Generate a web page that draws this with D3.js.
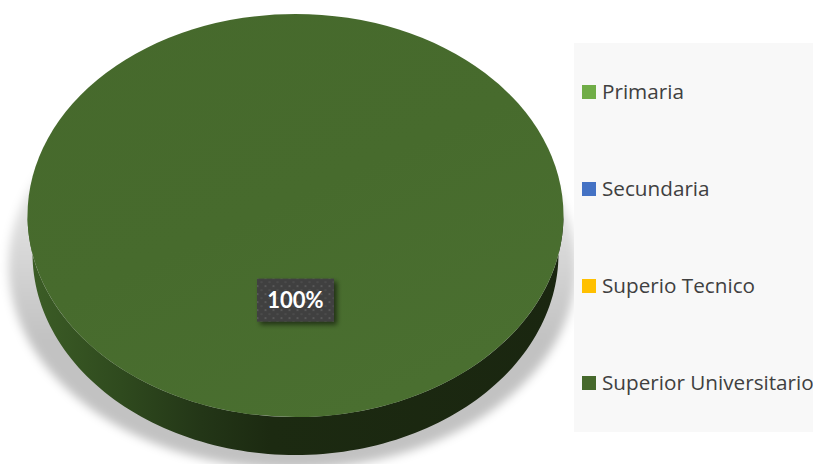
<!DOCTYPE html>
<html>
<head>
<meta charset="utf-8">
<script src="https://cdn.jsdelivr.net/npm/d3@7"></script>
<style>
  html, body { margin: 0; padding: 0; background: #ffffff; }
  svg { display: block; }
</style>
</head>
<body>
<svg id="chart" width="813" height="464"></svg>
<script>
// Nivel educativo: share of respondents per category (percent)
const categories = ["Primaria", "Secundaria", "Superio Tecnico", "Superior Universitario"];
const values = [0, 0, 0, 100];
const colors = ["#70AD47", "#4472C4", "#FFC000", "#46692C"];

const W = 813, H = 464;
const svg = d3.select("#chart");
const defs = svg.append("defs");

// 3D pie geometry (top face ellipse + extruded side)
const cx = 295.5, cy = 215.5;
const rx = 268, ry = 201.5;
const depth = 38;
const rxB = 263, ryB = 201.5;           // bottom rim, slightly narrower for perspective
const cyB = cy + depth;

const color = d3.scaleOrdinal().domain(categories).range(colors);
const pie = d3.pie().sort(null).value(d => d.value);
const slices = pie(categories.map((c, i) => ({ name: c, value: values[i] })));

// unit arc, stretched into the ellipse
const unitArc = d3.arc().innerRadius(0).outerRadius(1);

function topPt(a) { return [cx + rx * Math.sin(a), cy - ry * Math.cos(a)]; }
function botPt(a) { return [cx + rxB * Math.sin(a), cyB - ryB * Math.cos(a)]; }

// side band for angles a0..a1 restricted to the visible front half
function sidePath(a0, a1) {
  const s = Math.max(a0, Math.PI / 2), e = Math.min(a1, 3 * Math.PI / 2);
  if (e <= s) return null;
  const n = 120, pts = [];
  for (let i = 0; i <= n; i++) pts.push(topPt(s + (e - s) * i / n));
  for (let i = n; i >= 0; i--) pts.push(botPt(s + (e - s) * i / n));
  return d3.line()(pts) + "Z";
}

// perspective shadow cast behind and below the pie, fading out towards the top
const shadowGrad = defs.append("linearGradient").attr("id", "shadowGrad")
  .attr("gradientUnits", "userSpaceOnUse").attr("x1", 0).attr("x2", 0).attr("y1", 90).attr("y2", 340);
shadowGrad.append("stop").attr("offset", 0).attr("stop-color", "#000").attr("stop-opacity", 0);
shadowGrad.append("stop").attr("offset", 1).attr("stop-color", "#000").attr("stop-opacity", 0.24);
const shadowF = defs.append("filter").attr("id", "pieShadow")
  .attr("x", "-20%").attr("y", "-20%").attr("width", "140%").attr("height", "140%");
shadowF.append("feGaussianBlur").attr("stdDeviation", 5);

svg.append("ellipse")
  .attr("cx", cx - 3).attr("cy", cy + 50).attr("rx", rx + 16).attr("ry", ry + 2)
  .attr("fill", "url(#shadowGrad)").attr("filter", "url(#pieShadow)");

// side shading, light on the left, dark to the right
const sideGrad = defs.append("linearGradient").attr("id", "sideGrad")
  .attr("gradientUnits", "userSpaceOnUse").attr("x1", 30).attr("x2", 565).attr("y1", 0).attr("y2", 0);
[[0, "#3c5d26"], [0.17, "#2f4a1e"], [0.32, "#233617"], [0.45, "#1c2a11"], [1, "#1a2610"]]
  .forEach(([o, c]) => sideGrad.append("stop").attr("offset", o).attr("stop-color", c));

// subtle highlight on the top face
const topGrad = defs.append("linearGradient").attr("id", "topGrad")
  .attr("x1", 0).attr("y1", 0).attr("x2", 0.6).attr("y2", 1);
topGrad.append("stop").attr("offset", 0).attr("stop-color", color(categories[3]));
topGrad.append("stop").attr("offset", 0.55).attr("stop-color", "#476b2d");
topGrad.append("stop").attr("offset", 1).attr("stop-color", "#4a6f30");

const pieG = svg.append("g");

pieG.selectAll("path.side")
  .data(slices.filter(d => d.endAngle > d.startAngle))
  .join("path")
  .attr("class", "side")
  .attr("d", d => sidePath(d.startAngle, d.endAngle))
  .attr("fill", "url(#sideGrad)");

pieG.selectAll("path.top")
  .data(slices.filter(d => d.endAngle > d.startAngle))
  .join("path")
  .attr("class", "top")
  .attr("transform", `translate(${cx},${cy}) scale(${rx},${ry})`)
  .attr("d", unitArc)
  .attr("fill", d => d.value === 100 ? "url(#topGrad)" : color(d.data.name));

// data label: dark dotted box with white percentage
const dots = defs.append("pattern").attr("id", "dots")
  .attr("patternUnits", "userSpaceOnUse").attr("width", 8).attr("height", 8);
dots.append("rect").attr("width", 8).attr("height", 8).attr("fill", "#404040");
dots.append("rect").attr("x", 1).attr("y", 1).attr("width", 2).attr("height", 2).attr("fill", "#585858");
dots.append("rect").attr("x", 5).attr("y", 5).attr("width", 2).attr("height", 2).attr("fill", "#4c4c4c");

const lblShadow = defs.append("filter").attr("id", "lblShadow")
  .attr("x", "-20%").attr("y", "-30%").attr("width", "150%").attr("height", "170%");
lblShadow.append("feDropShadow").attr("dx", 3).attr("dy", 3).attr("stdDeviation", 2.5)
  .attr("flood-color", "#000").attr("flood-opacity", 0.55);

const labelFrac = 0.42;
const boxW = 77, boxH = 43;
const labels = svg.append("g").selectAll("g")
  .data(slices.filter(d => d.value > 0))
  .join("g")
  .attr("transform", d => {
    const a = (d.startAngle + d.endAngle) / 2;
    const x = cx + rx * labelFrac * Math.sin(a);
    const y = cy - ry * labelFrac * Math.cos(a);
    return `translate(${x},${y})`;
  });
labels.append("rect")
  .attr("x", -boxW / 2).attr("y", -boxH / 2).attr("width", boxW).attr("height", boxH)
  .attr("fill", "url(#dots)").attr("filter", "url(#lblShadow)");
labels.append("text")
  .attr("text-anchor", "middle").attr("dy", "0.36em")
  .attr("font-family", "Lato, 'Open Sans', sans-serif")
  .attr("font-weight", 700).attr("font-size", 22).attr("fill", "#ffffff")
  .text(d => d3.format(".0%")(d.value / d3.sum(values)));

// legend panel
const legend = svg.append("g");
legend.append("rect").attr("x", 574).attr("y", 43).attr("width", W - 574).attr("height", 389).attr("fill", "#f8f8f8");

const legendY = d3.scalePoint().domain(categories).range([92, 383]);
const items = legend.selectAll("g.item").data(categories).join("g")
  .attr("class", "item")
  .attr("transform", d => `translate(582,${legendY(d)})`);
items.append("rect").attr("x", 0).attr("y", -7).attr("width", 14).attr("height", 14).attr("fill", d => color(d));
items.append("text").attr("x", 20).attr("dy", "0.36em")
  .attr("font-family", "'Open Sans', sans-serif")
  .attr("font-size", 20.7).attr("fill", "#404040")
  .text(d => d);
</script>
</body>
</html>
